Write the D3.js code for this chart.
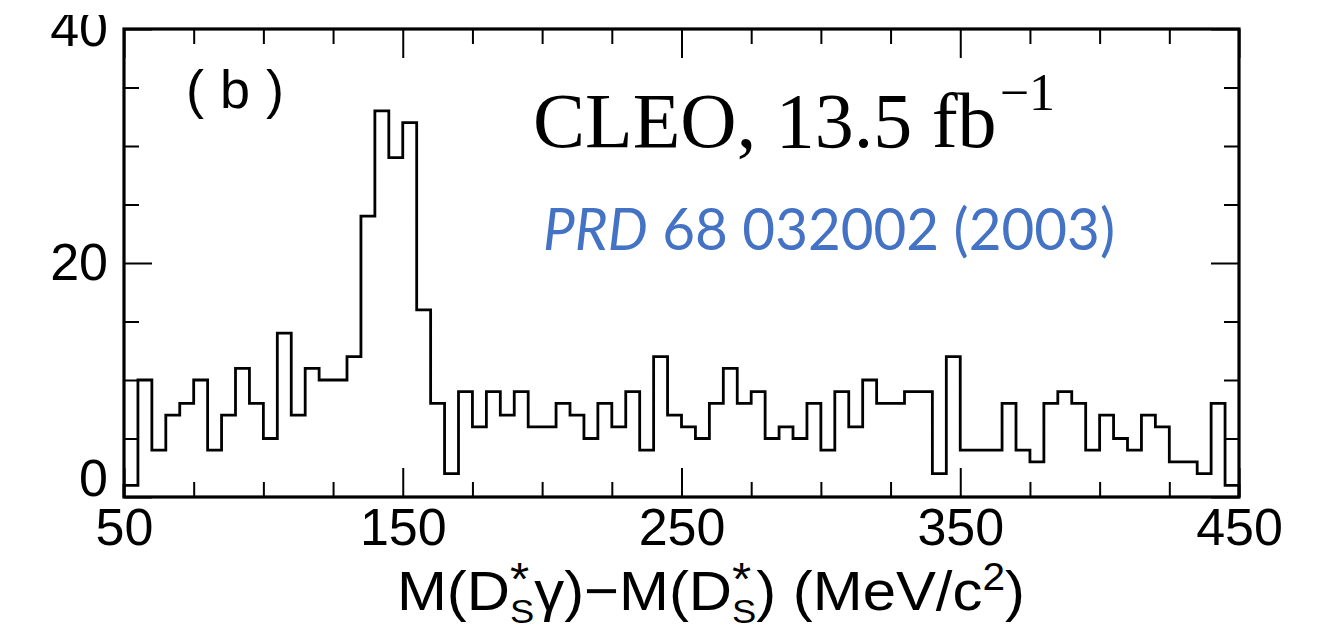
<!DOCTYPE html>
<html><head><meta charset="utf-8">
<script src="https://cdn.jsdelivr.net/npm/d3@7"></script>
<style>
html,body{margin:0;padding:0;background:#fff;}
svg{display:block;}
</style></head><body>
<svg id="chart" width="1327" height="630"></svg>
<script>
// ---- data ----
const binLow = d3.range(50, 450, 5);       // 5 MeV bins, lower edges
const counts = [1,10,4,7,8,10,4,7,11,8,5,14,7,11,10,10,12,24,33,29,32,16,8,2,9,6,9,7,9,6,6,8,7,5,8,6,9,4,12,7,6,5,8,11,8,9,5,6,5,8,4,9,6,10,8,8,9,9,2,12,4,4,4,8,4,3,8,9,8,4,7,5,4,7,6,3,3,2,8,1];
const xMajorTicks = [50,150,250,350,450];
const xMinorTicks = [75,100,125,175,200,225,275,300,325,375,400,425];
const yMajorTicks = [0,20,40];
const yMinorTicks = [5,10,15,25,30,35];
const panelLabel = "( b )";
const expLabel = "CLEO, 13.5 fb";
const expSup = "\u22121";
const refItalic = "PRD";
const refRest = " 68 032002 (2003)";

// ---- layout ----
const svg = d3.select("#chart");
const L = 124, R = 1239, T = 29, B = 497;
const x = d3.scaleLinear().domain([50,450]).range([L,R]);
const y = d3.scaleLinear().domain([0,40]).range([B,T]);
const FONT = "'Liberation Sans', Arial, Helvetica, sans-serif";

svg.append("defs").append("clipPath").attr("id","clipTop")
  .append("rect").attr("x",0).attr("y",15).attr("width",1327).attr("height",615);
const root = svg.append("g").attr("clip-path","url(#clipTop)");

function styleAxis(g){
  g.select(".domain").remove();
  g.selectAll(".tick line").attr("stroke","#000").attr("stroke-width",2);
  g.selectAll(".tick text").attr("fill","#000").style("font-family",FONT).style("font-size","52px");
}

// bottom
root.append("g").attr("transform",`translate(0,${B})`)
  .call(d3.axisBottom(x).tickValues(xMajorTicks).tickSizeInner(-29).tickSizeOuter(0).tickPadding(11).tickFormat(d3.format("d")))
  .call(styleAxis);
root.append("g").attr("transform",`translate(0,${B})`)
  .call(d3.axisBottom(x).tickValues(xMinorTicks).tickSizeInner(-15).tickSizeOuter(0).tickFormat(""))
  .call(styleAxis);
// top
root.append("g").attr("transform",`translate(0,${T})`)
  .call(d3.axisTop(x).tickValues(xMajorTicks).tickSizeInner(-29).tickSizeOuter(0).tickFormat(""))
  .call(styleAxis);
root.append("g").attr("transform",`translate(0,${T})`)
  .call(d3.axisTop(x).tickValues(xMinorTicks).tickSizeInner(-15).tickSizeOuter(0).tickFormat(""))
  .call(styleAxis);
// left
const gl = root.append("g").attr("transform",`translate(${L},0)`)
  .call(d3.axisLeft(y).tickValues(yMajorTicks).tickSizeInner(-28).tickSizeOuter(0).tickPadding(16).tickFormat(d3.format("d")))
  .call(styleAxis);
gl.selectAll(".tick text").filter(d => d === 0).attr("dy","-0.02em");
root.append("g").attr("transform",`translate(${L},0)`)
  .call(d3.axisLeft(y).tickValues(yMinorTicks).tickSizeInner(-15).tickSizeOuter(0).tickFormat(""))
  .call(styleAxis);
// right
root.append("g").attr("transform",`translate(${R},0)`)
  .call(d3.axisRight(y).tickValues(yMajorTicks).tickSizeInner(-28).tickSizeOuter(0).tickFormat(""))
  .call(styleAxis);
root.append("g").attr("transform",`translate(${R},0)`)
  .call(d3.axisRight(y).tickValues(yMinorTicks).tickSizeInner(-15).tickSizeOuter(0).tickFormat(""))
  .call(styleAxis);

// histogram
const pts = [{xv:50, c:0}].concat(binLow.map((b,i)=>({xv:b, c:counts[i]})));
pts.push({xv:450, c:counts[counts.length-1]});
pts.push({xv:450, c:0});
const line = d3.line().x(d=>x(d.xv)).y(d=>y(d.c)).curve(d3.curveStepAfter);
root.append("path").datum(pts).attr("d",line)
  .attr("fill","none").attr("stroke","#000").attr("stroke-width",2.8).attr("stroke-linejoin","miter");

// frame
root.append("rect").attr("x",L).attr("y",T).attr("width",R-L).attr("height",B-T)
  .attr("fill","none").attr("stroke","#000").attr("stroke-width",3.2);

// panel label
root.append("text").attr("x",186).attr("y",108)
  .style("font-family",FONT).style("font-size","54px").attr("fill","#000")
  .attr("textLength",98).attr("lengthAdjust","spacing")
  .attr("xml:space","preserve").text(panelLabel);

// CLEO label
const t1 = root.append("text").attr("x",533).attr("y",147)
  .style("font-family","'Liberation Serif','Times New Roman',serif").style("font-size","78px").attr("fill","#000");
t1.append("tspan").text(expLabel);
t1.append("tspan").attr("dx",3).attr("dy",-37).style("font-size","52px").text(expSup);

// reference
const t2 = root.append("text").attr("x",543).attr("y",250)
  .style("font-family","Lato, 'Open Sans', sans-serif").style("font-size","58px").attr("fill","#4472C4")
  .attr("textLength",572).attr("lengthAdjust","spacingAndGlyphs");
t2.append("tspan").style("font-style","italic").text(refItalic);
t2.append("tspan").attr("xml:space","preserve").text(refRest);

// x axis title
const tt = root.append("text").attr("x",397).attr("y",610)
  .style("font-family",FONT).style("font-size","56px").attr("fill","#000")
  .attr("textLength",628).attr("lengthAdjust","spacingAndGlyphs");
tt.append("tspan").text("M(D");
tt.append("tspan").attr("dy",-15).style("font-size","46px").text("*");
tt.append("tspan").attr("dx",-18).attr("dy",28).style("font-size","34px").text("S");
tt.append("tspan").attr("dy",-13).text("\u03B3)\u2212M(D");
tt.append("tspan").attr("dy",-15).style("font-size","46px").text("*");
tt.append("tspan").attr("dx",-18).attr("dy",28).style("font-size","34px").text("S");
tt.append("tspan").attr("dy",-13).attr("xml:space","preserve").text(") (MeV/c");
tt.append("tspan").attr("dy",-20).style("font-size","38px").text("2");
tt.append("tspan").attr("dy",20).text(")");
</script>
</body></html>
